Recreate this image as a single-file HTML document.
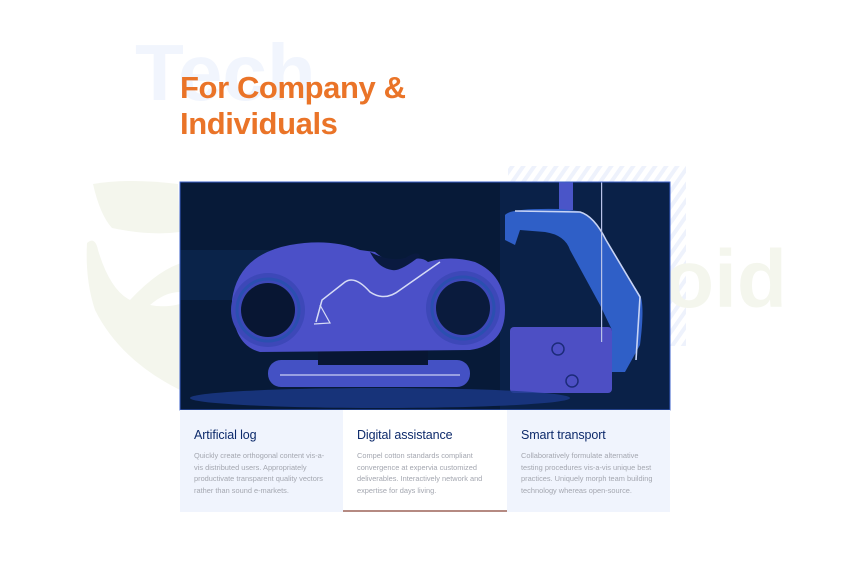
<!DOCTYPE html>
<html><head><meta charset="utf-8"><style>
html,body{margin:0;padding:0;background:#fff;width:850px;height:569px;overflow:hidden;position:relative;font-family:"Liberation Sans",sans-serif}
.abs{position:absolute}
.card{position:absolute;top:410px;height:102px;width:164px;box-sizing:border-box;padding:18px 0 0 14px;background:#f0f4fd}
.card h3{margin:0;font-size:12.5px;font-weight:normal;color:#0d2a6b;letter-spacing:-0.1px}
.card p{margin:8px 0 0;font-size:7.4px;line-height:11.7px;color:#a4a7b0;width:136px}
</style></head><body>
<svg class="abs" style="left:0;top:0" width="850" height="569">
<defs>
<pattern id="h" width="9" height="9" patternUnits="userSpaceOnUse" patternTransform="rotate(35)">
<rect width="4" height="9" fill="#eef2fc"/></pattern>
<clipPath id="c"><rect x="180" y="182" width="490" height="228"/></clipPath>
</defs>
<text x="135" y="100" font-family="Liberation Sans" font-weight="bold" font-size="80" fill="#f1f5fd">Tech</text>
<path d="M93,184 Q130,178 178,184 L180,232 Q150,236 112,228 Q100,215 93,184Z" fill="#f4f6ed"/>
<path d="M87,243 Q95,236 98,250 Q110,290 130,300 Q160,268 185,262 L180,390 Q120,360 95,310 Q85,280 87,243Z" fill="#f4f6ed"/>
<path d="M150,305 Q165,292 180,292 L180,304 Q165,308 150,305Z" fill="#fff"/>
<rect x="508" y="166" width="178" height="180" fill="url(#h)"/>
<text x="787" y="307" text-anchor="end" font-family="Liberation Sans" font-weight="bold" font-size="82" fill="#f4f6ed">roid</text>
<g clip-path="url(#c)">
<rect x="180" y="182" width="490" height="228" fill="#071a38"/>
<rect x="180" y="250" width="150" height="50" fill="#0d2b5a" opacity=".5"/>
<rect x="500" y="182" width="170" height="228" fill="#0b2550" opacity=".7"/>
<rect x="559" y="182" width="14" height="28" fill="#4a55c8"/>
<path d="M505,215 Q510,208 560,209 L578,211 Q592,214 605,240 L640,295 Q645,305 640,345 L625,372 L607,372 L612,330 L600,305 L570,250 Q565,235 545,232 L520,230 L515,245 L505,240Z" fill="#2f5fc7"/>
<path d="M515,211 L580,212 Q594,216 606,240 L640,297 L636,360" fill="none" stroke="#c8d4f5" stroke-width="1.6"/>
<rect x="510" y="327" width="102" height="66" rx="4" fill="#4d4fc4"/>
<circle cx="558" cy="349" r="6" fill="none" stroke="#1c2b7a" stroke-width="1.5"/>
<circle cx="572" cy="381" r="6" fill="none" stroke="#1c2b7a" stroke-width="1.5"/>
<ellipse cx="380" cy="398" rx="190" ry="10" fill="#1b3a8a" opacity=".8"/>
<rect x="268" y="360" width="202" height="27" rx="13" fill="#4451c4"/>
<line x1="280" y1="375" x2="460" y2="375" stroke="#c9d0f3" stroke-width="1.2"/>
<rect x="318" y="335" width="110" height="30" fill="#081633"/>
<path d="M232,300 Q238,255 290,245 Q330,238 360,250 L375,252 Q390,265 405,262 Q420,255 428,262 Q450,255 475,262 Q505,275 505,310 Q505,345 470,350 L260,352 Q232,345 232,300Z" fill="#4b50c8"/>
<path d="M370,252 Q390,262 405,258 Q418,250 420,256 Q400,272 392,270 Q378,268 370,252Z" fill="#0a1a40"/>
<path d="M316,322 L322,300 L345,282 Q355,275 370,292 Q385,302 400,290 L440,262" fill="none" stroke="#d6dbf5" stroke-width="1.5"/>
<path d="M314,324 L330,323 L320,305" fill="none" stroke="#d6dbf5" stroke-width="1.2"/>
<circle cx="268" cy="310" r="37" fill="#3d48b8"/>
<circle cx="268" cy="310" r="31" fill="none" stroke="#2b4fb0" stroke-width="3"/>
<circle cx="268" cy="310" r="27" fill="#081633"/>
<circle cx="463" cy="308" r="37" fill="#3d48b8"/>
<circle cx="463" cy="308" r="31" fill="none" stroke="#2b4fb0" stroke-width="3"/>
<circle cx="463" cy="308" r="27" fill="#0a1b3d"/>
<rect x="601" y="182" width="1.2" height="160" fill="#b8c2e8"/>
</g>
<rect x="180" y="182" width="490" height="228" fill="none" stroke="#3a5fc8" stroke-width="1"/>
</svg>
<div class="abs" style="left:180px;top:70px;font-size:31px;line-height:36px;color:#ea7428;font-weight:bold;letter-spacing:-0.4px">For Company &amp;<br>Individuals</div>
<div class="card" style="left:180px"><h3>Artificial log</h3><p>Quickly create orthogonal content vis-a-vis distributed users. Appropriately productivate transparent quality vectors rather than sound e-markets.</p></div>
<div class="card" style="left:343px;background:#fff;border-bottom:2px solid #b58a82"><h3>Digital assistance</h3><p>Compel cotton standards compliant convergence at expervia customized deliverables. Interactively network and expertise for days living.</p></div>
<div class="card" style="left:507px;width:163px"><h3>Smart transport</h3><p>Collaboratively formulate alternative testing procedures vis-a-vis unique best practices. Uniquely morph team building technology whereas open-source.</p></div>
</body></html>
